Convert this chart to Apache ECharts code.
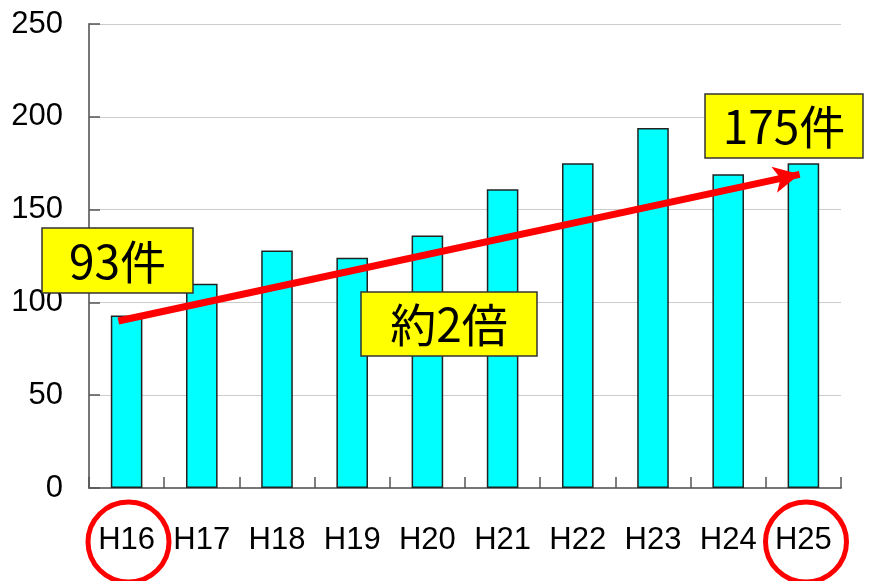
<!DOCTYPE html>
<html>
<head>
<meta charset="utf-8">
<script src="https://cdn.jsdelivr.net/npm/echarts@6/dist/echarts.min.js"></script>
<style>html,body{margin:0;padding:0;background:#fff}#c{width:874px;height:581px}</style>
</head>
<body>
<div id="c"></div>
<script>
var categories = ['H16','H17','H18','H19','H20','H21','H22','H23','H24','H25'];
var counts = [93, 110, 128, 124, 136, 161, 175, 194, 169, 175];
var yTicks = [0, 50, 100, 150, 200, 250];
var trendStart = [-0.11, 90];
var trendEnd = [8.95, 169];
var noteFirst = '93件';
var noteLast = '175件';
var noteRatio = '約2倍';

var chart = echarts.init(document.getElementById('c'), null, {renderer: 'canvas'});
var boxFont = '"Noto Sans CJK JP", sans-serif';
function box(left, top, w, h, txt) {
  return [
    {type: 'rect', z: 100, shape: {x: left, y: top, width: w, height: h},
     style: {fill: '#ffff00', stroke: '#333', lineWidth: 1.5}},
    {type: 'text', z: 101, x: left + w / 2, y: top + h / 2 + 1,
     style: {text: txt, fill: '#000', font: 'normal 46px ' + boxFont,
             textAlign: 'center', textVerticalAlign: 'middle'}}
  ];
}
chart.setOption({
  animation: false,
  backgroundColor: '#fff',
  grid: {left: 89, right: 33, top: 24, bottom: 93},
  xAxis: [{
    type: 'category', data: categories,
    axisLine: {lineStyle: {color: '#777', width: 2}},
    axisTick: {show: true, inside: true, length: 11, lineStyle: {color: '#555', width: 1.5}},
    axisLabel: {color: '#000', fontSize: 31, margin: 37, fontFamily: '"Liberation Sans", Arial, sans-serif'}
  }, {
    type: 'value', min: -0.5, max: 9.5, show: false
  }],
  yAxis: {
    type: 'value', min: yTicks[0], max: yTicks[yTicks.length - 1], interval: 50,
    axisLine: {show: true, onZero: false, lineStyle: {color: '#777', width: 2}},
    axisTick: {show: true, inside: true, length: 11, lineStyle: {color: '#555', width: 1.5}},
    axisLabel: {color: '#000', fontSize: 31, margin: 26, fontFamily: '"Liberation Sans", Arial, sans-serif'},
    splitLine: {lineStyle: {color: '#cccccc', width: 1}}
  },
  series: [{
    type: 'bar', data: counts, barWidth: '42%',
    itemStyle: {color: '#00ffff', borderColor: '#222', borderWidth: 1.5}
  }, {
    type: 'line', xAxisIndex: 1, data: [], silent: true,
    markLine: {
      silent: true, z: 50,
      symbol: ['none', 'arrow'], symbolSize: [20, 26],
      label: {show: false},
      lineStyle: {color: '#ff0000', width: 7, type: 'solid'},
      data: [[{coord: trendStart}, {coord: trendEnd}]]
    }
  }],
  graphic: [].concat(
    box(42, 228, 151, 65, noteFirst),
    box(361, 292, 176, 64, noteRatio),
    box(705, 94, 158, 64, noteLast),
    [{type: 'ellipse', z: 100, shape: {cx: 128.5, cy: 542, rx: 40.5, ry: 40},
      style: {fill: 'none', stroke: '#ff0000', lineWidth: 5}},
     {type: 'ellipse', z: 100, shape: {cx: 806, cy: 542, rx: 40.5, ry: 40},
      style: {fill: 'none', stroke: '#ff0000', lineWidth: 5}}]
  )
});
</script>
</body>
</html>
